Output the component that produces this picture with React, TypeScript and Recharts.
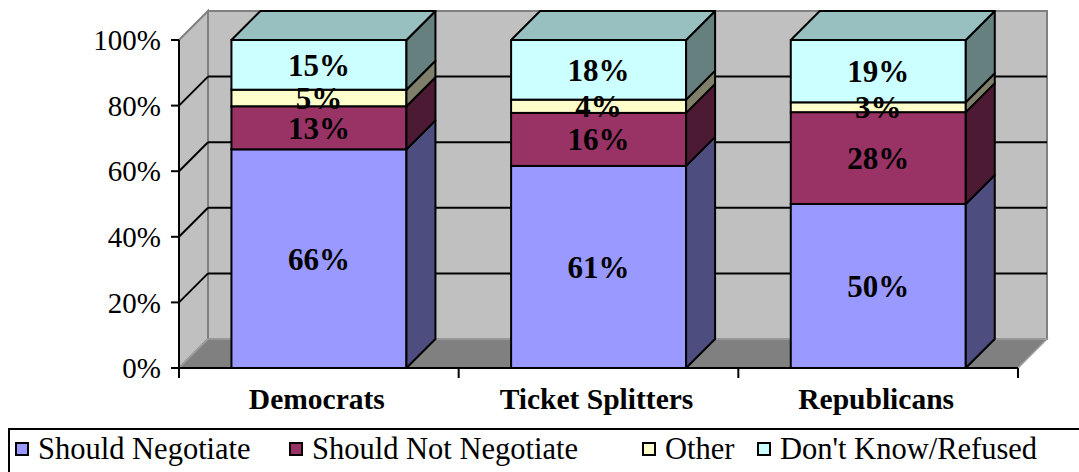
import { BarChart, Bar, XAxis, YAxis, CartesianGrid, LabelList } from 'recharts'

const CATEGORIES = ['Democrats', 'Ticket Splitters', 'Republicans']
const SHOULD_NEGOTIATE = [66, 61, 50]
const SHOULD_NOT_NEGOTIATE = [13, 16, 28]
const OTHER = [5, 4, 3]
const DONT_KNOW = [15, 18, 19]
const Y_TICKS = [0, 0.2, 0.4, 0.6, 0.8, 1]

const SERIES = [
  { key: 'neg', name: 'Should Negotiate', fill: '#9999FF', side: '#4D4D80' },
  { key: 'notNeg', name: 'Should Not Negotiate', fill: '#993366', side: '#4D1A33' },
  { key: 'other', name: 'Other', fill: '#FFFFCC', side: '#80806A' },
  { key: 'dk', name: "Don't Know/Refused", fill: '#CCFFFF', side: '#668080', top: '#99C0C0' },
]

const data = CATEGORIES.map((name, i) => ({
  name,
  neg: SHOULD_NEGOTIATE[i],
  notNeg: SHOULD_NOT_NEGOTIATE[i],
  other: OTHER[i],
  dk: DONT_KNOW[i],
}))

// layout
const W = 1079
const H = 472
const MARGIN = { top: 40, right: 61, bottom: 64, left: 79 }
const Y_AXIS_W = 100
const X_AXIS_H = 40
const DEPTH = 29
const FONT = "'Liberation Serif', 'Times New Roman', serif"

const PLOT_L = MARGIN.left + Y_AXIS_W
const PLOT_R = W - MARGIN.right
const PLOT_T = MARGIN.top
const PLOT_B = H - MARGIN.bottom - X_AXIS_H

const makeShape = (side: string, top?: string) => (props: any) => {
  const { x, y, width: w, height: h, fill } = props
  if (!h) return null
  return (
    <g>
      <rect x={x} y={y} width={w} height={h} fill={fill} stroke="#000" strokeWidth={2} />
      <polygon
        points={`${x + w},${y} ${x + w + DEPTH},${y - DEPTH} ${x + w + DEPTH},${y + h - DEPTH} ${x + w},${y + h}`}
        fill={side}
        stroke="#000"
        strokeWidth={2}
        strokeLinejoin="round"
      />
      {top && (
        <polygon
          points={`${x},${y} ${x + DEPTH},${y - DEPTH} ${x + w + DEPTH},${y - DEPTH} ${x + w},${y}`}
          fill={top}
          stroke="#000"
          strokeWidth={2}
          strokeLinejoin="round"
        />
      )}
    </g>
  )
}

const gridLine = (props: any) => {
  const { x1, y1, x2, key } = props
  if (Math.abs(y1 - PLOT_T) < 1 || Math.abs(y1 - PLOT_B) < 1) return <g key={key} />
  return (
    <g key={key}>
      <line x1={x1 + DEPTH} y1={y1 - DEPTH} x2={x2 + DEPTH} y2={y1 - DEPTH} stroke="#000" strokeWidth={2} />
      <line x1={x1} y1={y1} x2={x1 + DEPTH} y2={y1 - DEPTH} stroke="#000" strokeWidth={2} />
    </g>
  )
}

const XTick = (props: any) => {
  const { x, y, payload, index } = props
  const half = payload.offset || (PLOT_R - PLOT_L) / CATEGORIES.length / 2
  return (
    <g>
      <line x1={x - half} y1={y} x2={x - half} y2={y + 10} stroke="#000" strokeWidth={2} />
      {index === CATEGORIES.length - 1 && (
        <line x1={x + half} y1={y} x2={x + half} y2={y + 10} stroke="#000" strokeWidth={2} />
      )}
      <text x={x - 2} y={y + 41} textAnchor="middle" fontFamily={FONT} fontWeight="bold" fontSize={29.5} fill="#000">
        {payload.value}
      </text>
    </g>
  )
}

function Walls() {
  return (
    <svg width={W} height={H} style={{ position: 'absolute', left: 0, top: 0 }}>
      <rect x={PLOT_L + DEPTH} y={PLOT_T - DEPTH} width={PLOT_R - PLOT_L} height={PLOT_B - PLOT_T} fill="#C0C0C0" stroke="#808080" strokeWidth={2} />
      <polygon
        points={`${PLOT_L},${PLOT_T} ${PLOT_L + DEPTH},${PLOT_T - DEPTH} ${PLOT_L + DEPTH},${PLOT_B - DEPTH} ${PLOT_L},${PLOT_B}`}
        fill="#C0C0C0"
        stroke="#808080"
        strokeWidth={2}
      />
      <polygon
        points={`${PLOT_L},${PLOT_B} ${PLOT_L + DEPTH},${PLOT_B - DEPTH} ${PLOT_R + DEPTH},${PLOT_B - DEPTH} ${PLOT_R},${PLOT_B}`}
        fill="#808080"
        stroke="#A0A0A0"
        strokeWidth={1.5}
      />
    </svg>
  )
}

export default function App() {
  return (
    <div style={{ position: 'absolute', left: 0, top: 0, width: W, height: H, background: '#fff', overflow: 'hidden' }}>
      <Walls />
      <div style={{ position: 'absolute', left: 0, top: 0 }}>
        <BarChart width={W} height={H} data={data} margin={MARGIN} stackOffset="expand" barCategoryGap="18.75%">
          <CartesianGrid vertical={false} horizontal={gridLine} />
          <XAxis
            dataKey="name"
            height={X_AXIS_H}
            tickLine={false}
            tickSize={0}
            tickMargin={0}
            axisLine={{ stroke: '#000', strokeWidth: 2 }}
            tick={<XTick />}
            interval={0}
          />
          <YAxis
            width={Y_AXIS_W}
            domain={[0, 1]}
            ticks={Y_TICKS}
            tickFormatter={(v: number) => `${Math.round(v * 100)}%`}
            axisLine={{ stroke: '#000', strokeWidth: 2 }}
            tickLine={{ stroke: '#000', strokeWidth: 2 }}
            tickSize={8}
            tickMargin={10}
            tick={{ fill: '#000', fontSize: 29, fontFamily: FONT }}
          />
          {SERIES.map((s) => (
            <Bar
              key={s.key}
              dataKey={s.key}
              name={s.name}
              stackId="a"
              fill={s.fill}
              shape={makeShape(s.side, s.top)}
              isAnimationActive={false}
            >
              <LabelList
                dataKey={s.key}
                position="center"
                formatter={(v: any) => `${v}%`}
                fill="#000"
                fontFamily={FONT}
                fontWeight="bold"
                fontSize={31}
              />
            </Bar>
          ))}
        </BarChart>
      </div>
      <div
        style={{
          position: 'absolute',
          left: 8,
          top: 428,
          width: 1100,
          height: 60,
          border: '2px solid #000',
          boxSizing: 'border-box',
          background: '#fff',
          fontFamily: FONT,
          fontSize: 30.5,
          color: '#000',
        }}
      >
        {SERIES.map((s, i) => (
          <div key={s.key} style={{ position: 'absolute', left: [5, 279, 632, 747][i], top: 2, display: 'flex', alignItems: 'center', whiteSpace: 'nowrap', lineHeight: '34px' }}>
            <span style={{ display: 'inline-block', width: 10, height: 10, border: '2px solid #000', background: s.fill, marginRight: 9 }} />
            {s.name}
          </div>
        ))}
      </div>
    </div>
  )
}
